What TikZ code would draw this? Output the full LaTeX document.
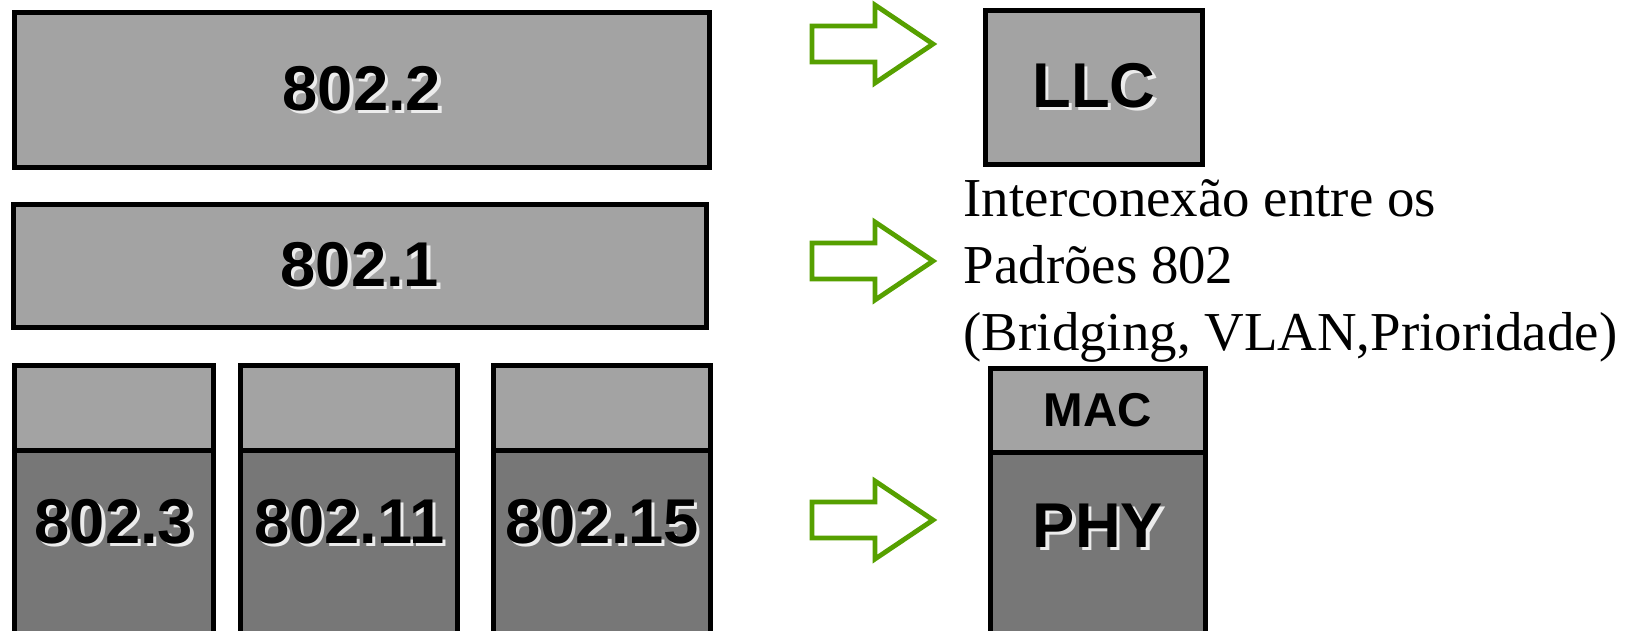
\documentclass[tikz,border=0pt]{standalone}
\usepackage{fontspec}
\setmainfont{Liberation Serif}
\setsansfont{Liberation Sans}
\usepackage{xcolor}
\usepackage{tikz}
\usetikzlibrary{positioning}
\definecolor{layergray}{HTML}{A3A3A3}
\definecolor{phygray}{HTML}{777777}
\definecolor{arrowgreen}{HTML}{56A000}

\newcommand\shadowed[1]{\rlap{\kern0.9pt\raisebox{-0.9pt}{\textcolor{white!85!gray}{#1}}}#1}

\begin{document}
\begin{tikzpicture}[x=0.01cm, y=-0.01cm,
    layer/.style={draw=black, line width=0.05cm, fill=layergray, inner sep=0pt, outer sep=0pt,
      font=\sffamily\bfseries\fontsize{18}{18}\selectfont},
    phylayer/.style={layer, fill=phygray},
    blockarrow/.style={draw=arrowgreen, line width=0.048cm, line join=miter}]
  \useasboundingbox (0,0) rectangle (1640,630);

  % 802 standards
  \node[layer, minimum width=6.95cm, minimum height=1.54cm] (s8022) at (362,90) {\shadowed{802.2}};
  \node[layer, minimum width=6.935cm, minimum height=1.225cm] (s8021) at (360,266) {\shadowed{802.1}};

  \node[layer, minimum width=1.98cm, minimum height=0.845cm, anchor=north] (m3) at (114,365.5) {};
  \node[phylayer, minimum width=1.98cm, text height=0.935cm, text depth=0.965cm, below=0pt of m3] (p3) {\shadowed{802.3}};
  \node[layer, minimum width=2.165cm, minimum height=0.845cm, anchor=north] (m11) at (349.25,365.5) {};
  \node[phylayer, minimum width=2.165cm, text height=0.935cm, text depth=0.965cm, below=0pt of m11] (p11) {\shadowed{802.11}};
  \node[layer, minimum width=2.165cm, minimum height=0.845cm, anchor=north] (m15) at (602.25,365.5) {};
  \node[phylayer, minimum width=2.165cm, text height=0.935cm, text depth=0.965cm, below=0pt of m15] (p15) {\shadowed{802.15}};

  % arrows
  \foreach \cy in {44,261,520}
    \draw[blockarrow] (812,\cy-18) -- (875,\cy-18) -- (875,\cy-39) -- (933,\cy)
      -- (875,\cy+39) -- (875,\cy+18) -- (812,\cy+18) -- cycle;

  % right side
  \node[layer, minimum width=2.17cm, minimum height=1.54cm] (llc) at (1094,87.5) {\shadowed{LLC}};
  \node[font=\fontsize{15.6}{19}\selectfont, align=left, anchor=north west, inner sep=0pt] (note) at (963,179)
    {Interconexão entre os\\Padrões 802\\(Bridging, VLAN,Prioridade)};
  \node[layer, minimum width=2.15cm, minimum height=0.835cm, anchor=north,
        font=\sffamily\bfseries\fontsize{13.5}{13.5}\selectfont] (mac) at (1098,368.5) {MAC};
  \node[phylayer, minimum width=2.15cm, text height=0.955cm, text depth=0.925cm, below=0pt of mac] (phy) {\shadowed{PHY}};
\end{tikzpicture}
\end{document}
